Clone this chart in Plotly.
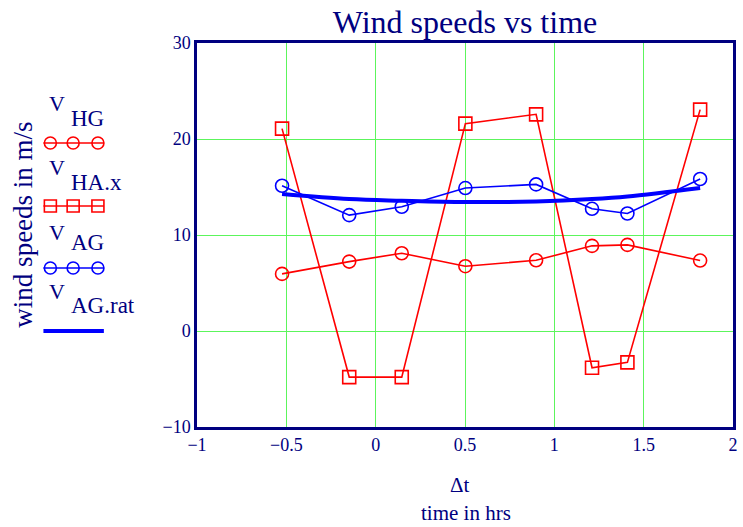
import plotly.graph_objects as go

# ---- data ----
t_hrs = [-0.524, -0.148, 0.146, 0.502, 0.898, 1.211, 1.409, 1.816]
V_HG = [5.95, 7.23, 8.10, 6.75, 7.37, 8.87, 8.97, 7.34]
V_HAx = [21.08, -4.8, -4.8, 21.6, 22.57, -3.83, -3.27, 23.06]
V_AG = [15.13, 12.07, 12.94, 14.89, 15.27, 12.73, 12.24, 15.83]
V_AGrat = [14.26, 13.74, 13.57, 13.43, 13.50, 13.74, 14.00, 14.89]

x_ticks = [-1, -0.5, 0, 0.5, 1, 1.5, 2]
y_ticks = [-10, 0, 10, 20, 30]

NAVY = "#000080"
RED = "#ff0000"
BLUE = "#0000ff"
GRID = "#5cf55c"
FONT = "Liberation Serif"

W, H = 743, 527
L, R, T, B = 197, 738, 43, 427


def px(x):
    return (x - L) / (R - L)


def py(y):
    return (B - y) / (B - T)


fig = go.Figure()
fig.add_trace(go.Scatter(x=t_hrs, y=V_HG, mode="lines+markers",
                         line=dict(color=RED, width=1.6),
                         marker=dict(symbol="circle-open", size=13, color=RED, line=dict(width=1.6))))
fig.add_trace(go.Scatter(x=t_hrs, y=V_HAx, mode="lines+markers",
                         line=dict(color=RED, width=1.6),
                         marker=dict(symbol="square-open", size=13, color=RED, line=dict(width=1.6))))
fig.add_trace(go.Scatter(x=t_hrs, y=V_AG, mode="lines+markers",
                         line=dict(color=BLUE, width=1.6),
                         marker=dict(symbol="circle-open", size=13, color=BLUE, line=dict(width=1.6))))
fig.add_trace(go.Scatter(x=t_hrs, y=V_AGrat, mode="lines",
                         line=dict(color=BLUE, width=4, shape="spline")))

annotations = []
shapes = []


def text(s, x, y, size, xanchor="center", angle=0):
    annotations.append(dict(text=s, x=px(x), y=py(y), xref="paper", yref="paper",
                            showarrow=False, xanchor=xanchor, yanchor="middle",
                            textangle=angle, borderpad=0,
                            font=dict(family=FONT, size=size, color=NAVY)))


# axis titles
text("Δt", 462, 485, 21)
text("time in hrs", 469, 513, 21)
text("wind speeds in m/s", 21, 225, 27, angle=-90)

# legend
legend_rows = [
    ("HG", 103, 118, 143, "circle", RED),
    ("HA.x", 167, 182, 206, "square", RED),
    ("AG", 232, 243, 268, "circle", BLUE),
    ("AG.rat", 291, 305, 331, "thick", BLUE),
]
for sub, yv, ys, ym, kind, col in legend_rows:
    text("V", 56, yv, 22)
    text(sub, 69, ys, 23, xanchor="left")
    if kind == "thick":
        shapes.append(dict(type="line", xref="paper", yref="paper",
                           x0=px(42), x1=px(103), y0=py(ym), y1=py(ym),
                           line=dict(color=col, width=4)))
    else:
        shapes.append(dict(type="line", xref="paper", yref="paper",
                           x0=px(42), x1=px(103), y0=py(ym), y1=py(ym),
                           line=dict(color=col, width=1.6)))
        for cx in (49, 72, 97):
            shapes.append(dict(type="circle" if kind == "circle" else "rect",
                               xref="paper", yref="paper",
                               xsizemode="pixel", ysizemode="pixel",
                               xanchor=px(cx), yanchor=py(ym),
                               x0=-6, x1=6, y0=-6, y1=6,
                               line=dict(color=col, width=1.6)))

fig.update_layout(
    width=W, height=H,
    margin=dict(l=L, r=W - R, t=T, b=H - B),
    paper_bgcolor="white", plot_bgcolor="white",
    showlegend=False,
    title=dict(text="Wind speeds vs time", x=0.5, xref="paper", xanchor="center",
               y=1 - 22 / H, yanchor="middle",
               font=dict(family=FONT, size=32, color=NAVY)),
    annotations=annotations,
    shapes=shapes,
)
fig.update_xaxes(range=[-1, 2], tickvals=x_ticks, showgrid=True, gridcolor=GRID, gridwidth=1.3,
                 zeroline=False, showline=True, mirror=True, linecolor=NAVY, linewidth=2.5,
                 ticks="", tickfont=dict(family=FONT, size=18, color=NAVY))
fig.update_yaxes(range=[-10, 30], tickvals=y_ticks, showgrid=True, gridcolor=GRID, gridwidth=1.3,
                 zeroline=False, showline=True, mirror=True, linecolor=NAVY, linewidth=2.5,
                 ticks="", tickfont=dict(family=FONT, size=18, color=NAVY))

fig.write_html("out.html", config={"displayModeBar": False},
               post_script="document.body.style.margin='0';document.body.style.overflow='hidden';")
